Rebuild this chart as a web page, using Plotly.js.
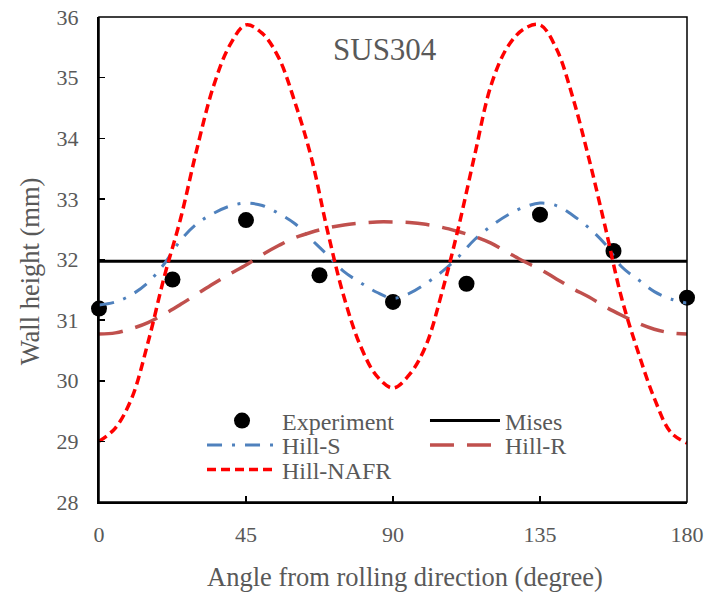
<!DOCTYPE html>
<html>
<head>
<meta charset="utf-8">
<script src="https://cdn.plot.ly/plotly-3.0.1.min.js"></script>
<style>html,body{margin:0;padding:0;background:#fff;}#chart{width:709px;height:592px;}</style>
</head>
<body>
<div id="chart"></div>
<script>
// Data
const angleCurve = [0,5,10,15,20,25,30,35,40,45,50,55,60,65,70,75,80,85,90,95,100,105,110,115,120,125,130,135,140,145,150,155,160,165,170,175,180];
const expAngle = [0,22.5,45,67.5,90,112.5,135,157.5,180];
const expHeight = [31.19,31.67,32.65,31.74,31.30,31.60,32.74,32.14,31.37];
const misesAngle = [0,180];
const misesHeight = [31.97,31.97];
const hillS = [31.25,31.30,31.42,31.62,31.93,32.32,32.59,32.76,32.88,32.93,32.89,32.76,32.59,32.33,32.07,31.80,31.62,31.46,31.36,31.44,31.60,31.80,32.04,32.33,32.55,32.73,32.86,32.93,32.89,32.73,32.52,32.25,31.88,31.67,31.47,31.35,31.28];
const hillR = [30.77,30.79,30.86,30.96,31.10,31.26,31.43,31.60,31.76,31.91,32.08,32.23,32.36,32.45,32.52,32.57,32.60,32.62,32.62,32.61,32.58,32.53,32.46,32.38,32.27,32.12,31.97,31.84,31.68,31.52,31.38,31.22,31.08,30.95,30.85,30.79,30.77];
const hillNAFR = [29.00,29.22,29.71,30.63,31.72,32.68,33.83,34.85,35.53,35.87,35.73,35.33,34.59,33.68,32.46,31.38,30.58,30.08,29.88,30.10,30.57,31.46,32.52,33.72,34.87,35.50,35.80,35.87,35.48,34.68,33.66,32.53,31.36,30.48,29.71,29.15,28.97];
const xTicks = [0,45,90,135,180];
const yTicks = [28,29,30,31,32,33,34,35,36];

const FONT = "'Liberation Serif', serif";
const GRAY = "#595959";

const traces = [
  {x: expAngle, y: expHeight, name: "Experiment", mode: "markers", type: "scatter",
   marker: {color: "#000", size: 16}, cliponaxis: false, legend: "legend"},
  {x: misesAngle, y: misesHeight, name: "Mises", mode: "lines", type: "scatter",
   line: {color: "#000", width: 3}, legend: "legend2"},
  {x: angleCurve, y: hillS, name: "Hill-S", mode: "lines", type: "scatter",
   line: {color: "#4F81BD", width: 3, dash: "15px,10px,3px,10px", shape: "spline", smoothing: 1}, legend: "legend3"},
  {x: angleCurve, y: hillR, name: "Hill-R", mode: "lines", type: "scatter",
   line: {color: "#C0504D", width: 3.5, dash: "24px,13px", shape: "spline", smoothing: 1}, legend: "legend4"},
  {x: angleCurve, y: hillNAFR, name: "Hill-NAFR", mode: "lines", type: "scatter",
   line: {color: "#FF0000", width: 3.5, dash: "9px,5px", shape: "spline", smoothing: 1}, legend: "legend5"}
];

function leg(x, y) {
  return {x: x, y: y, xanchor: "left", yanchor: "middle", bgcolor: "rgba(0,0,0,0)",
          font: {family: FONT, size: 24, color: GRAY}, itemwidth: 70, borderwidth: 0};
}

const layout = {
  width: 709, height: 592,
  margin: {l: 99, r: 22, t: 17, b: 90},
  paper_bgcolor: "#fff", plot_bgcolor: "#fff",
  font: {family: FONT, color: GRAY, size: 22},
  xaxis: {range: [0, 180], tickvals: xTicks, ticktext: xTicks.map(String),
          ticks: "inside", ticklen: 6, tickwidth: 1.5, tickcolor: "#000",
          showline: true, linewidth: 2, linecolor: "#000", showgrid: false, zeroline: false,
          tickfont: {family: FONT, size: 22, color: GRAY}, ticklabelstandoff: 12},
  yaxis: {range: [28, 36], tickvals: yTicks, ticktext: yTicks.map(String),
          ticks: "inside", ticklen: 6, tickwidth: 1.5, tickcolor: "#000",
          showline: true, linewidth: 2, linecolor: "#000", showgrid: false, zeroline: false,
          tickfont: {family: FONT, size: 22, color: GRAY}, ticklabelstandoff: 14},
  showlegend: true,
  legend: leg(0.1752, 0.167),
  legend2: leg(0.5544, 0.167),
  legend3: leg(0.1752, 0.1165),
  legend4: leg(0.5544, 0.1165),
  legend5: leg(0.1752, 0.066),
  shapes: [{type: "rect", xref: "paper", yref: "paper", x0: 0, x1: 1, y0: 0, y1: 1,
            line: {color: "#000", width: 1.5}, fillcolor: "rgba(0,0,0,0)", layer: "above"}],
  annotations: [
    {text: "SUS304", xref: "paper", yref: "paper", x: 0.4864, y: 0.932,
     xanchor: "center", yanchor: "middle", showarrow: false,
     font: {family: FONT, size: 31, color: GRAY}},
    {text: "Wall height (mm)", xref: "paper", yref: "paper", x: -0.117, y: 0.476,
     xanchor: "center", yanchor: "middle", textangle: -90, showarrow: false,
     font: {family: FONT, size: 26.5, color: GRAY}},
    {text: "Angle from rolling direction (degree)", xref: "paper", yref: "paper", x: 0.521, y: -0.1546,
     xanchor: "center", yanchor: "middle", showarrow: false,
     font: {family: FONT, size: 26.5, color: GRAY}}
  ]
};

Plotly.newPlot("chart", traces, layout, {displayModeBar: false, staticPlot: true});
</script>
</body>
</html>
